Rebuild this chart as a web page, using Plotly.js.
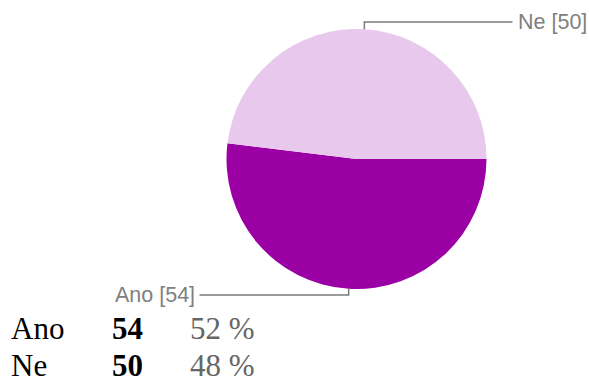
<!DOCTYPE html>
<html>
<head>
<meta charset="utf-8">
<script src="https://cdn.plot.ly/plotly-3.0.1.min.js"></script>
<style>html,body{margin:0;padding:0;background:#fff;}#chart{width:589px;height:380px;}</style>
</head>
<body>
<div id="chart"></div>
<script>
// Data
const categories = ["Ano", "Ne"];
const counts = [54, 50];
const sliceColors = ["#9a00a3", "#e9c8ee"];

// Layout constants (pixels)
const W = 589, H = 380;
const CX = 356.5, CY = 159, R = 130;

const px = x => x / W;
const py = y => 1 - y / H;

const total = counts.reduce((a, b) => a + b, 0);

const trace = {
  type: "pie",
  labels: categories,
  values: counts,
  sort: false,
  direction: "clockwise",
  rotation: 90,
  marker: {colors: sliceColors, line: {width: 0}},
  textinfo: "none",
  hoverinfo: "label+value+percent",
  showlegend: false,
  domain: {x: [px(CX - R), px(CX + R)], y: [py(CY + R), py(CY - R)]}
};

// leader lines + labels computed from slice mid-angles (clockwise from 3 o'clock, screen coords)
const shapes = [];
const annotations = [];
let start = 0;
counts.forEach((v, i) => {
  const sweep = v / total * 360;
  const mid = (start + sweep / 2) * Math.PI / 180;
  start += sweep;
  const ex = CX + R * Math.cos(mid);
  const ey = CY + R * Math.sin(mid);
  const up = Math.sin(mid) < 0;
  const ly = up ? CY - R - 7 : CY + R + 6;
  const right = up;
  const lx = right ? CX + R + 26 : CX - R - 27;
  shapes.push({type: "path", xref: "paper", yref: "paper",
    path: `M ${px(ex)} ${py(ey)} L ${px(ex)} ${py(ly)} L ${px(lx)} ${py(ly)}`,
    line: {color: "#7a7a7a", width: 1.5}});
  annotations.push({xref: "paper", yref: "paper", x: px(right ? lx + 3 : lx - 3), y: py(ly),
    xanchor: right ? "left" : "right", yanchor: "middle", showarrow: false,
    text: `${categories[i]} [${v}]`,
    font: {family: "Liberation Sans, Arial, sans-serif", size: 21.5, color: "#808080"}});
});

// summary table
const rowY = [328, 365.5];
categories.forEach((name, r) => {
  const pct = Math.round(counts[r] / total * 100);
  const f = {family: "Liberation Serif, Times New Roman, serif", size: 31, color: "#000"};
  annotations.push({xref: "paper", yref: "paper", x: px(9), y: py(rowY[r]), xanchor: "left", yanchor: "middle",
    showarrow: false, text: name, font: f});
  annotations.push({xref: "paper", yref: "paper", x: px(110), y: py(rowY[r]), xanchor: "left", yanchor: "middle",
    showarrow: false, text: `<b>${counts[r]}</b>`, font: f});
  annotations.push({xref: "paper", yref: "paper", x: px(188), y: py(rowY[r]), xanchor: "left", yanchor: "middle",
    showarrow: false, text: `${pct} %`, font: Object.assign({}, f, {color: "#666"})});
});

const layout = {
  width: W, height: H,
  margin: {l: 0, r: 0, t: 0, b: 0},
  paper_bgcolor: "#fff",
  showlegend: false,
  shapes: shapes,
  annotations: annotations
};

Plotly.newPlot("chart", [trace], layout, {displayModeBar: false, staticPlot: true});
</script>
</body>
</html>
